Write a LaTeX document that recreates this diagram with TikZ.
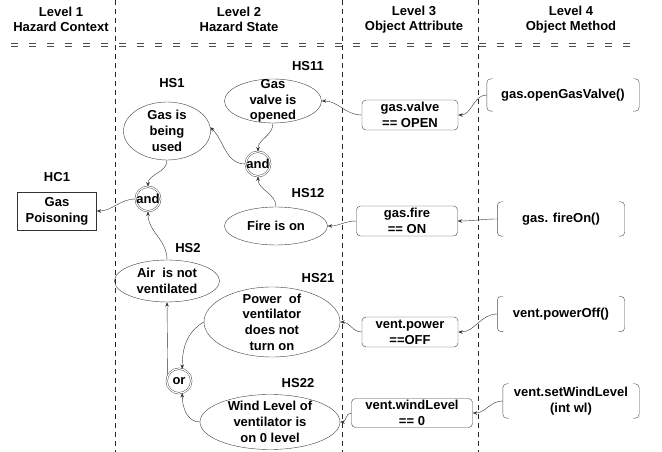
\documentclass[tikz,border=0pt]{standalone}
\usepackage{fontspec}
\setmainfont{Liberation Sans}
\usetikzlibrary{shapes.geometric,arrows.meta,positioning}

\newcommand{\gatetext}[1]{\makebox[0pt]{#1}}

\tikzset{
  hazstate/.style={ellipse,draw=black!75,align=center,inner xsep=-8pt,inner ysep=-8pt},
  attrbox/.style={draw=black!75,rounded corners=4pt,align=center,minimum height=30pt,inner sep=1pt},
  methodbox/.style={align=center,inner sep=1pt},
  bracketline/.style={draw=black!70,rounded corners=4pt},
  gate/.style={circle,draw=black!80,double,double distance=1.2pt,minimum size=24.5pt,inner sep=0pt},
  ctxbox/.style={draw=black!80,align=center,minimum width=79pt,minimum height=38pt},
  levelhead/.style={align=center,font=\fontsize{13}{15}\selectfont\bfseries},
  levelsep/.style={draw=black!85,dash pattern=on 5pt off 4pt},
  headsep/.style={draw=black!70,dash pattern=on 7pt off 11pt},
  link/.style={draw=black!80,-{Stealth[length=4.5pt,width=3.5pt]}},
}

\begin{document}
\begin{tikzpicture}[x=1pt,y=1pt,font=\fontsize{13}{15.7}\selectfont\bfseries]
\useasboundingbox (0,0) rectangle (662,452);

% level columns
\node[levelhead] (lvl1) at (61,432.5) {Level 1\\Hazard Context};
\node[levelhead] (lvl2) at (239,432.5) {Level 2\\Hazard State};
\node[levelhead] (lvl3) at (414,432.5) {Level 3\\Object Attribute};
\node[levelhead] (lvl4) at (571,432.5) {Level 4\\Object Method};
\draw[headsep] (11,408.5) -- (632,408.5);
\draw[headsep] (11,405.5) -- (632,405.5);
\draw[levelsep] (115,452) -- (115,0);
\draw[levelsep] (342,452) -- (342,0);
\draw[levelsep] (478,452) -- (478,0);

% level 1
\node[ctxbox] (hc1) at (57,241) {Gas\\Poisoning};
\node (hc1lbl) at (57,275) {HC1};

% level 2
\node[gate] (and1) at (148,253) {\gatetext{and}};
\node[hazstate,minimum width=87pt,minimum height=58pt] (hs1) at (167,321) {Gas is\\being\\used};
\node (hs1lbl) at (172,369) {HS1};
\node[hazstate,minimum width=97pt,minimum height=44pt] (hs11) at (273,351) {Gas\\valve is\\opened};
\node (hs11lbl) at (308,386) {HS11};
\node[gate] (and2) at (258,288) {\gatetext{and}};
\node[hazstate,minimum width=103pt,minimum height=38pt] (hs12) at (276,226) {Fire is on};
\node (hs12lbl) at (308,259) {HS12};
\node[hazstate,minimum width=105pt,minimum height=42pt] (hs2) at (167,171) {Air\ \ is not\\ventilated};
\node (hs2lbl) at (188,204) {HS2};
\node[hazstate,minimum width=136pt,minimum height=70pt] (hs21) at (272,130) {Power\ \ of\\ventilator\\does not\\turn on};
\node (hs21lbl) at (318,174) {HS21};
\node[gate] (or) at (179,71) {\gatetext{or}};
\node[hazstate,minimum width=140pt,minimum height=55pt] (hs22) at (270,30) {Wind Level of\\ventilator is\\on 0 level};
\node (hs22lbl) at (298,69) {HS22};

% level 3
\node[attrbox,minimum width=96pt] (a1) at (410,337) {gas.valve\\== OPEN};
\node[attrbox,minimum width=101pt] (a2) at (407,231) {gas.fire\\== ON};
\node[attrbox,minimum width=96pt] (a3) at (410,120) {vent.power\\==OFF};
\node[attrbox,minimum width=121pt,minimum height=29pt] (a4) at (412,39) {vent.windLevel\\== 0};

% level 4
\node[methodbox,minimum width=152pt,minimum height=32pt] (m1) at (563,357) {gas.openGasValve()};
\node[methodbox,minimum width=127pt,minimum height=34pt] (m2) at (561,233) {gas. fireOn()};
\node[methodbox,minimum width=127pt,minimum height=35pt] (m3) at (561,138) {vent.powerOff()};
\node[methodbox,minimum width=136pt,minimum height=34pt] (m4) at (571,51) {vent.setWindLevel\\(int wl)};
\foreach \m in {m1,m2,m3,m4}{
  \draw[bracketline] ([xshift=6pt]\m.north west) -- (\m.north west) -- (\m.south west) -- ([xshift=6pt]\m.south west);
  \draw[bracketline] ([xshift=-6pt]\m.north east) -- (\m.north east) -- (\m.south east) -- ([xshift=-6pt]\m.south east);
}

% links
\draw[link] (m1.west) to[out=180,in=0] (a1.east);
\draw[link] (a1.west) to[out=180,in=0] (hs11.east);
\draw[link] (hs11.south) to[out=-90,in=90] (and2.north);
\draw[link] (hs12.north) to[out=90,in=-90] (and2.south);
\draw[link] (and2.west) to[out=180,in=-45] (hs1.5);
\draw[link] (hs1.south) to[out=-90,in=90] (and1.north);
\draw[link] (hs2.north) to[out=90,in=-90] (and1.south);
\draw[link] (and1.west) to[out=180,in=0] (hc1.east);
\draw[link] (m2.west) to[out=180,in=0] (a2.east);
\draw[link] (a2.west) to[out=180,in=0] (hs12.east);
\draw[link] (m3.west) to[out=180,in=0] (a3.east);
\draw[link] (a3.west) to[out=180,in=0] (hs21.east);
\draw[link] (hs21.west) to[out=210,in=90] (or.75);
\draw[link] (hs22.west) to[out=180,in=-90] (or.-75);
\draw[link] (or.155) -- (hs2.south);
\draw[link] (m4.west) to[out=180,in=0] (a4.east);
\draw[link] (a4.west) to[out=180,in=0] (hs22.east);
\end{tikzpicture}
\end{document}
